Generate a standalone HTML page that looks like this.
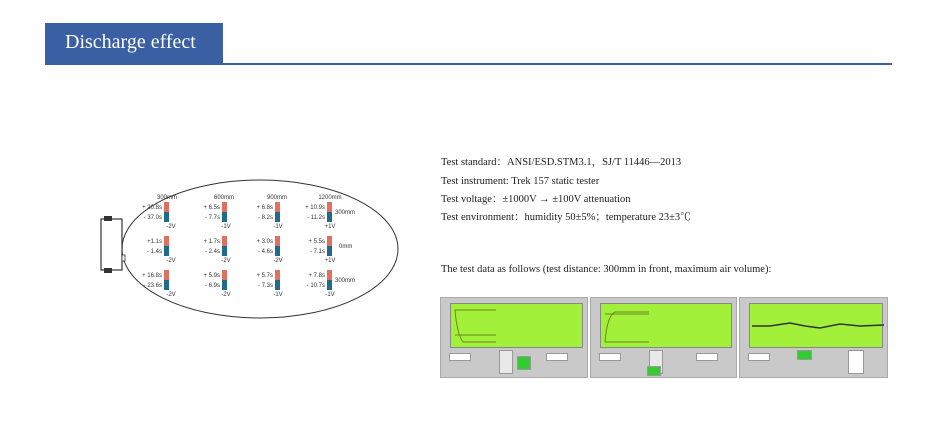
<!DOCTYPE html>
<html><head><meta charset="utf-8"><style>
body{margin:0;width:950px;height:429px;background:#fff;position:relative;overflow:hidden;font-family:"Liberation Serif","Noto Serif CJK SC",serif;}
.hdr{position:absolute;left:45px;top:23px;width:178px;height:41px;background:#3a5fa3;color:#fff;font-size:20px;line-height:39px;box-sizing:border-box;padding-left:20px;}
.line{position:absolute;left:45px;top:63px;width:847px;height:2px;background:#3a5fa3;}
.t{position:absolute;left:441px;font-size:10.5px;line-height:14px;height:14px;color:#222;white-space:nowrap;}
.p{position:absolute;top:297px;height:81px;background:#c9c9c9;border:1px solid #aaa;box-sizing:border-box;}
.g{position:absolute;left:9px;top:5px;right:4px;height:43px;background:#a3f03a;border:1px solid #888;}
.b{position:absolute;background:#e8e8e8;border:1px solid #999;}
</style></head><body>
<div class="hdr">Discharge effect</div>
<div class="line"></div>
<div class="t" style="top:156px">Test standard：ANSI/ESD.STM3.1，SJ/T 11446—2013</div>
<div class="t" style="top:175px">Test instrument: Trek 157 static tester</div>
<div class="t" style="top:193px">Test voltage：±1000V → ±100V attenuation</div>
<div class="t" style="top:211px">Test environment：humidity 50±5%；temperature 23±3℃</div>
<div class="t" style="top:263px">The test data as follows (test distance: 300mm in front, maximum air volume):</div>

<svg style="position:absolute;left:0;top:0" width="950" height="429" font-family="Liberation Sans, sans-serif" font-size="6" fill="#333">
<ellipse cx="260" cy="249" rx="138" ry="69" fill="none" stroke="#333" stroke-width="1"/>
<rect x="101" y="219" width="21" height="51" fill="#fff" stroke="#333" stroke-width="1.2"/>
<rect x="104" y="216" width="8" height="5" fill="#333"/>
<rect x="104" y="268" width="8" height="5" fill="#333"/>
<rect x="122" y="255" width="3" height="6" fill="#fff" stroke="#333" stroke-width="0.8"/>
<g text-anchor="middle"><text x="167" y="199">300mm</text><text x="224" y="199">600mm</text><text x="277" y="199">900mm</text><text x="330" y="199">1200mm</text></g>
<text x="335" y="214">300mm</text><text x="339" y="248">0mm</text><text x="335" y="282">300mm</text>
<g>
<g transform="translate(164,202)"><rect width="5" height="10" fill="#e07060"/><rect y="10" width="5" height="10" fill="#1e6b8a"/></g>
<g transform="translate(222,202)"><rect width="5" height="10" fill="#e07060"/><rect y="10" width="5" height="10" fill="#1e6b8a"/></g>
<g transform="translate(275,202)"><rect width="5" height="10" fill="#e07060"/><rect y="10" width="5" height="10" fill="#1e6b8a"/></g>
<g transform="translate(327,202)"><rect width="5" height="10" fill="#e07060"/><rect y="10" width="5" height="10" fill="#1e6b8a"/></g>
<g transform="translate(164,236)"><rect width="5" height="10" fill="#e07060"/><rect y="10" width="5" height="10" fill="#1e6b8a"/></g>
<g transform="translate(222,236)"><rect width="5" height="10" fill="#e07060"/><rect y="10" width="5" height="10" fill="#1e6b8a"/></g>
<g transform="translate(275,236)"><rect width="5" height="10" fill="#e07060"/><rect y="10" width="5" height="10" fill="#1e6b8a"/></g>
<g transform="translate(327,236)"><rect width="5" height="10" fill="#e07060"/><rect y="10" width="5" height="10" fill="#1e6b8a"/></g>
<g transform="translate(164,270)"><rect width="5" height="10" fill="#e07060"/><rect y="10" width="5" height="10" fill="#1e6b8a"/></g>
<g transform="translate(222,270)"><rect width="5" height="10" fill="#e07060"/><rect y="10" width="5" height="10" fill="#1e6b8a"/></g>
<g transform="translate(275,270)"><rect width="5" height="10" fill="#e07060"/><rect y="10" width="5" height="10" fill="#1e6b8a"/></g>
<g transform="translate(327,270)"><rect width="5" height="10" fill="#e07060"/><rect y="10" width="5" height="10" fill="#1e6b8a"/></g>
</g>
<g text-anchor="end">
<text x="162" y="209">+ 20.8s</text><text x="162" y="219">- 37.0s</text>
<text x="220" y="209">+ 6.5s</text><text x="220" y="219">- 7.7s</text>
<text x="273" y="209">+ 6.8s</text><text x="273" y="219">- 8.2s</text>
<text x="325" y="209">+ 10.9s</text><text x="325" y="219">- 11.2s</text>
<text x="162" y="243">+1.1s</text><text x="162" y="253">- 1.4s</text>
<text x="220" y="243">+ 1.7s</text><text x="220" y="253">- 2.4s</text>
<text x="273" y="243">+ 3.0s</text><text x="273" y="253">- 4.6s</text>
<text x="325" y="243">+ 5.5s</text><text x="325" y="253">- 7.1s</text>
<text x="162" y="277">+ 16.8s</text><text x="162" y="287">- 23.6s</text>
<text x="220" y="277">+ 5.9s</text><text x="220" y="287">- 6.9s</text>
<text x="273" y="277">+ 5.7s</text><text x="273" y="287">- 7.3s</text>
<text x="325" y="277">+ 7.8s</text><text x="325" y="287">- 10.7s</text>
</g>
<g text-anchor="middle">
<text x="171" y="228">-2V</text><text x="226" y="228">-1V</text><text x="278" y="228">-1V</text><text x="330" y="228">+1V</text>
<text x="171" y="262">-2V</text><text x="226" y="262">-2V</text><text x="278" y="262">-2V</text><text x="330" y="262">+1V</text>
<text x="171" y="296">-2V</text><text x="226" y="296">-2V</text><text x="278" y="296">-1V</text><text x="330" y="296">-1V</text>
</g>
</svg>

<div class="p" style="left:440px;width:148px"><div class="g"><svg width="134" height="43" style="position:absolute;left:0;top:0"><path d="M4 6 H45 M4 6 Q6 30 12 38 H45 M4 31 H45" stroke="#6a8a20" fill="none" stroke-width="1"/></svg></div>
<div class="b" style="left:8px;top:55px;width:20px;height:6px;background:#fff"></div><div class="b" style="left:58px;top:52px;width:12px;height:22px"></div><div class="b" style="left:76px;top:58px;width:12px;height:12px;background:#3c3"></div><div class="b" style="left:105px;top:55px;width:20px;height:6px;background:#fff"></div></div>
<div class="p" style="left:590px;width:147px"><div class="g"><svg width="134" height="43" style="position:absolute;left:0;top:0"><path d="M4 38 Q6 12 14 8 H48 M4 38 H48 M4 10 H48" stroke="#6a8a20" fill="none" stroke-width="1"/></svg></div>
<div class="b" style="left:8px;top:55px;width:20px;height:6px;background:#fff"></div><div class="b" style="left:58px;top:52px;width:12px;height:22px"></div><div class="b" style="left:56px;top:68px;width:12px;height:8px;background:#3c3"></div><div class="b" style="left:105px;top:55px;width:20px;height:6px;background:#fff"></div></div>
<div class="p" style="left:739px;width:149px"><div class="g"><svg width="136" height="43" style="position:absolute;left:0;top:0"><path d="M2 22 L20 22 L40 19 L55 22 L70 24 L90 20 L110 22 L134 21" stroke="#333" fill="none" stroke-width="1.5"/></svg></div>
<div class="b" style="left:8px;top:55px;width:20px;height:6px;background:#fff"></div><div class="b" style="left:57px;top:52px;width:13px;height:8px;background:#3c3"></div><div class="b" style="left:108px;top:52px;width:14px;height:22px;background:#fff"></div></div>
</body></html>
